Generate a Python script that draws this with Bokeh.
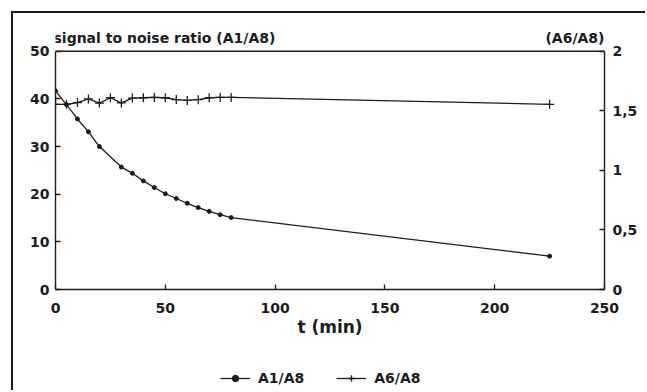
from bokeh.plotting import figure
from bokeh.layouts import column
from bokeh.models import Range1d, LinearAxis, FixedTicker, Label, Legend, LegendItem, Span
from bokeh.embed import file_html
from bokeh.resources import INLINE

# ---- data ----
t_a1 = [0, 5, 10, 15, 20, 30, 35, 40, 45, 50, 55, 60, 65, 70, 75, 80, 225]
a1_a8 = [41.7, 38.8, 35.8, 33.1, 30.0, 25.7, 24.4, 22.8, 21.4, 20.1, 19.1, 18.1, 17.2, 16.4, 15.7, 15.1, 7.0]

t_a6 = [0, 5, 10, 15, 20, 25, 30, 35, 40, 45, 50, 55, 60, 65, 70, 75, 80, 225]
a6_a8 = [1.555, 1.555, 1.57, 1.60, 1.565, 1.61, 1.567, 1.607, 1.61, 1.613, 1.61,
         1.595, 1.588, 1.594, 1.61, 1.613, 1.613, 1.555]

x_ticks = [0, 50, 100, 150, 200, 250]
left_ticks = [0, 10, 20, 30, 40, 50]
right_ticks = [0, 0.5, 1, 1.5, 2]
right_labels = ["0", "0,5", "1", "1,5", "2"]
series_names = ["A1/A8", "A6/A8"]

FONT = "DejaVu Sans"
INK = "#1c1c1c"
BORDER = f"2px solid {INK}"

# ---------------- main chart ----------------
# the frame reaches above the top axis line so the header texts stay inside it
p = figure(width=634, height=355, output_backend="svg", toolbar_location=None,
           x_range=Range1d(0, 250), y_range=Range1d(0, 55),
           min_border_left=42, min_border_right=43, min_border_top=14, min_border_bottom=79)
p.margin = (11, 0, 0, 11)
p.styles = {"border-left": BORDER, "border-top": BORDER}
p.extra_y_ranges = {"r": Range1d(0, 2.2)}
p.grid.visible = False
p.outline_line_color = None
p.background_fill_color = "white"
p.border_fill_color = "white"

def style_axis(ax):
    ax.axis_line_color = INK
    ax.axis_line_width = 1.4
    ax.major_tick_line_color = INK
    ax.major_tick_line_width = 1.3
    ax.major_tick_in = 5
    ax.major_tick_out = 0
    ax.minor_tick_line_color = None
    ax.major_label_text_font = FONT
    ax.major_label_text_font_style = "bold"
    ax.major_label_text_font_size = "14px"
    ax.major_label_text_color = INK

xa = p.xaxis[0]
style_axis(xa)
xa.ticker = FixedTicker(ticks=x_ticks)
xa.major_label_standoff = 13
xa.axis_label = "t (min)"
xa.axis_label_text_font = FONT
xa.axis_label_text_font_style = "bold"
xa.axis_label_text_font_size = "17px"
xa.axis_label_text_color = INK
xa.axis_label_standoff = 1

ya = p.yaxis[0]
style_axis(ya)
ya.ticker = FixedTicker(ticks=left_ticks)
ya.bounds = (0, 50)
ya.major_label_standoff = 6

ra = LinearAxis(y_range_name="r")
style_axis(ra)
ra.ticker = FixedTicker(ticks=right_ticks)
ra.bounds = (0, 2)
ra.major_label_overrides = {k: v for k, v in zip(right_ticks, right_labels)}
ra.major_label_standoff = 8
p.add_layout(ra, "right")

# top edge of the axes box
p.add_layout(Span(location=50, dimension="width", line_color=INK, line_width=1.4))

p.line(t_a1, a1_a8, line_color=INK, line_width=1.3)
p.scatter(t_a1, a1_a8, marker="circle", size=4, fill_color=INK, line_color=INK)
p.line(t_a6, a6_a8, y_range_name="r", line_color=INK, line_width=1.3)
p.scatter(t_a6, a6_a8, y_range_name="r", marker="cross", size=9, line_color=INK, line_width=1.3)

p.add_layout(Label(x=0, y=50, x_offset=-2, y_offset=13, text="signal to noise ratio (A1/A8)",
                   text_font=FONT, text_font_style="bold", text_font_size="14px",
                   text_color=INK, text_baseline="alphabetic", text_align="left"))
p.add_layout(Label(x=250, y=50, x_offset=0, y_offset=13, text="(A6/A8)",
                   text_font=FONT, text_font_style="bold", text_font_size="14px",
                   text_color=INK, text_baseline="alphabetic", text_align="right"))

# ---------------- legend strip ----------------
# same series, drawn outside the visible range, only to supply legend glyphs
q = figure(width=634, height=24, output_backend="svg", toolbar_location=None,
           x_range=Range1d(1000, 1001), y_range=Range1d(1000, 1001),
           x_axis_type=None, y_axis_type=None,
           min_border_left=0, min_border_right=0, min_border_top=0, min_border_bottom=0)
q.margin = (0, 0, 0, 11)
q.styles = {"border-left": BORDER}
q.grid.visible = False
q.outline_line_color = None
q.background_fill_color = "white"
q.border_fill_color = "white"

g1 = q.line(t_a1, a1_a8, line_color=INK, line_width=1.3)
h1 = q.scatter(t_a1, a1_a8, marker="circle", size=4, fill_color=INK, line_color=INK)
g2 = q.line(t_a6, a6_a8, line_color=INK, line_width=1.3)
h2 = q.scatter(t_a6, a6_a8, marker="cross", size=9, line_color=INK, line_width=1.3)

legend = Legend(items=[LegendItem(label=series_names[0], renderers=[g1, h1]),
                       LegendItem(label=series_names[1], renderers=[g2, h2])],
                orientation="horizontal", location=(165, 4),
                glyph_width=30, glyph_height=16, label_standoff=8, spacing=32,
                padding=0, margin=0, border_line_color=None, background_fill_alpha=0,
                label_text_font=FONT, label_text_font_style="bold",
                label_text_font_size="14px", label_text_color=INK)
q.add_layout(legend, "center")

layout = column(p, q, spacing=0)
open("out.html", "w").write(file_html(layout, INLINE))
